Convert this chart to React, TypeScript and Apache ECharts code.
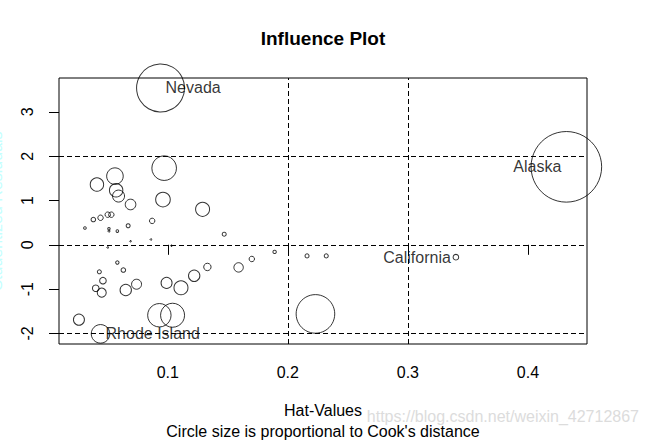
import React, { useEffect, useRef } from "react";
import * as echarts from "echarts";

// ---- data ----
const hatValues = [
  0.094, 0.432, 0.34, 0.044, 0.097, 0.056, 0.041, 0.057, 0.059, 0.069, 0.096, 0.129,
  0.038, 0.044, 0.05, 0.053, 0.031, 0.051, 0.051, 0.058, 0.067, 0.087, 0.069, 0.086,
  0.05, 0.103, 0.147, 0.189, 0.17, 0.216, 0.232, 0.133, 0.159, 0.122, 0.058, 0.063,
  0.043, 0.046, 0.04, 0.045, 0.065, 0.074, 0.099, 0.111, 0.026, 0.093, 0.104, 0.223,
];
const studentizedResiduals = [
  3.54, 1.76, -0.28, -2.01, 1.73, 1.55, 1.36, 1.23, 1.1, 0.91, 1.02, 0.8,
  0.57, 0.61, 0.68, 0.68, 0.38, 0.36, 0.31, 0.31, 0.43, 0.54, 0.08, 0.12,
  -0.06, -0.02, 0.24, -0.16, -0.32, -0.25, -0.25, -0.5, -0.51, -0.7, -0.4, -0.57,
  -0.61, -0.81, -0.98, -1.08, -1.02, -0.89, -0.86, -0.97, -1.69, -1.59, -1.59, -1.56,
];
const cookDistance = [
  0.462, 1.0, 0.0063, 0.0694, 0.1214, 0.0553, 0.036, 0.036, 0.0289, 0.0225, 0.0428, 0.0393,
  0.0042, 0.0059, 0.0059, 0.0059, 0.0014, 0.0012, 0.0008, 0.0014, 0.0032, 0.0059, 0.0002, 0.0002,
  0.0002, 0.0001, 0.0032, 0.0023, 0.0059, 0.0032, 0.0032, 0.011, 0.0177, 0.026, 0.0023, 0.0042,
  0.0032, 0.0087, 0.0087, 0.0163, 0.026, 0.02, 0.0243, 0.0393, 0.0243, 0.1099, 0.1156, 0.299,
];
const stateNames = [
  "Nevada", "Alaska", "California", "Rhode Island",
];
const xTickValues = [0.1, 0.2, 0.3, 0.4];
const yTickValues = [-2, -1, 0, 1, 2, 3];
const hatCutoffs = [0.2, 0.3];
const residualCutoffs = [-2, 0, 2];
const xRange = [0.0094, 0.4492];
const yRange = [-2.239, 3.765];

const FONT = "'Liberation Sans', Arial, sans-serif";

export default function App() {
  const ref = useRef<HTMLDivElement>(null);

  useEffect(() => {
    if (!ref.current) return;
    const chart = echarts.init(ref.current, null, { renderer: "svg" });
    const maxCook = Math.max(...cookDistance);
    const points = hatValues.map((h, i) => [h, studentizedResiduals[i], cookDistance[i]]);
    const mid = (Math.min(...hatValues) + Math.max(...hatValues)) / 2;
    const labelData = stateNames.map((name, i) => ({
      name,
      value: [hatValues[i], studentizedResiduals[i]],
      label: { position: hatValues[i] > mid ? "left" : "right" },
    }));

    chart.setOption({
      animation: false,
      backgroundColor: "#fff",
      textStyle: { fontFamily: FONT },
      title: [
        {
          text: "Influence Plot",
          left: "center",
          top: 29,
          padding: 0,
          textStyle: { fontFamily: FONT, fontSize: 19, fontWeight: "bold", color: "#000" },
        },
        {
          text: "Circle size is proportional to Cook's distance",
          left: "center",
          top: 422,
          padding: 0,
          textStyle: { fontFamily: FONT, fontSize: 16, fontWeight: "normal", color: "#000", lineHeight: 18 },
        },
      ],
      grid: {
        left: 59,
        right: 59,
        top: 78,
        bottom: 98,
        containLabel: false,
        outerBoundsMode: "none",
        show: true,
        borderColor: "#000",
        borderWidth: 1,
        backgroundColor: "transparent",
      },
      xAxis: {
        type: "value",
        min: xRange[0],
        max: xRange[1],
        name: "Hat-Values",
        nameLocation: "middle",
        nameGap: 58,
        nameTextStyle: { fontFamily: FONT, fontSize: 16, color: "#000" },
        axisLine: { show: false },
        splitLine: { show: false },
        axisTick: { show: true, inside: false, length: 10, customValues: xTickValues, lineStyle: { color: "#000" } },
        axisLabel: {
          customValues: xTickValues,
          margin: 20,
          fontFamily: FONT,
          fontSize: 16,
          color: "#000",
          formatter: (v: number) => String(v),
        },
      },
      yAxis: {
        type: "value",
        min: yRange[0],
        max: yRange[1],
        name: "Studentized Residuals",
        nameLocation: "middle",
        nameGap: 55,
        nameTextStyle: { fontFamily: FONT, fontSize: 16, color: "#c4ffff" },
        axisLine: { show: false },
        splitLine: { show: false },
        axisTick: { show: true, inside: false, length: 10, customValues: yTickValues, lineStyle: { color: "#000" } },
        axisLabel: {
          customValues: yTickValues,
          rotate: 90,
          margin: 24,
          fontFamily: FONT,
          fontSize: 16,
          color: "#000",
          formatter: (v: number) => String(v),
        },
      },
      series: [
        {
          type: "scatter",
          data: points,
          clip: true,
          symbol: "circle",
          symbolSize: (val: number[]) => Math.max(1.5, 2 * 35.3 * Math.sqrt(val[2] / maxCook)),
          itemStyle: { color: "rgba(0,0,0,0)", borderColor: "#000", borderWidth: 1 },
          silent: true,
          markLine: {
            silent: true,
            symbol: "none",
            label: { show: false },
            lineStyle: { type: [5, 3], color: "#000", width: 1 },
            data: [
              ...hatCutoffs.map((v) => ({ xAxis: v })),
              ...residualCutoffs.map((v) => ({ yAxis: v })),
            ],
          },
        },
        {
          type: "scatter",
          data: labelData,
          symbolSize: 0,
          silent: true,
          z: 5,
          label: {
            show: true,
            formatter: "{b}",
            distance: 5,
            fontFamily: FONT,
            fontSize: 16,
            color: "#000",
          },
        },
      ],
      graphic: [
        {
          type: "text",
          right: 7,
          top: 408,
          silent: true,
          style: {
            text: "https://blog.csdn.net/weixin_42712867",
            font: `16px ${FONT}`,
            fill: "#dcdcdc",
          },
        },
      ],
    });

    return () => chart.dispose();
  }, []);

  return (
    <div
      ref={ref}
      style={{ position: "absolute", left: 0, top: 0, width: 646, height: 442 }}
    />
  );
}
